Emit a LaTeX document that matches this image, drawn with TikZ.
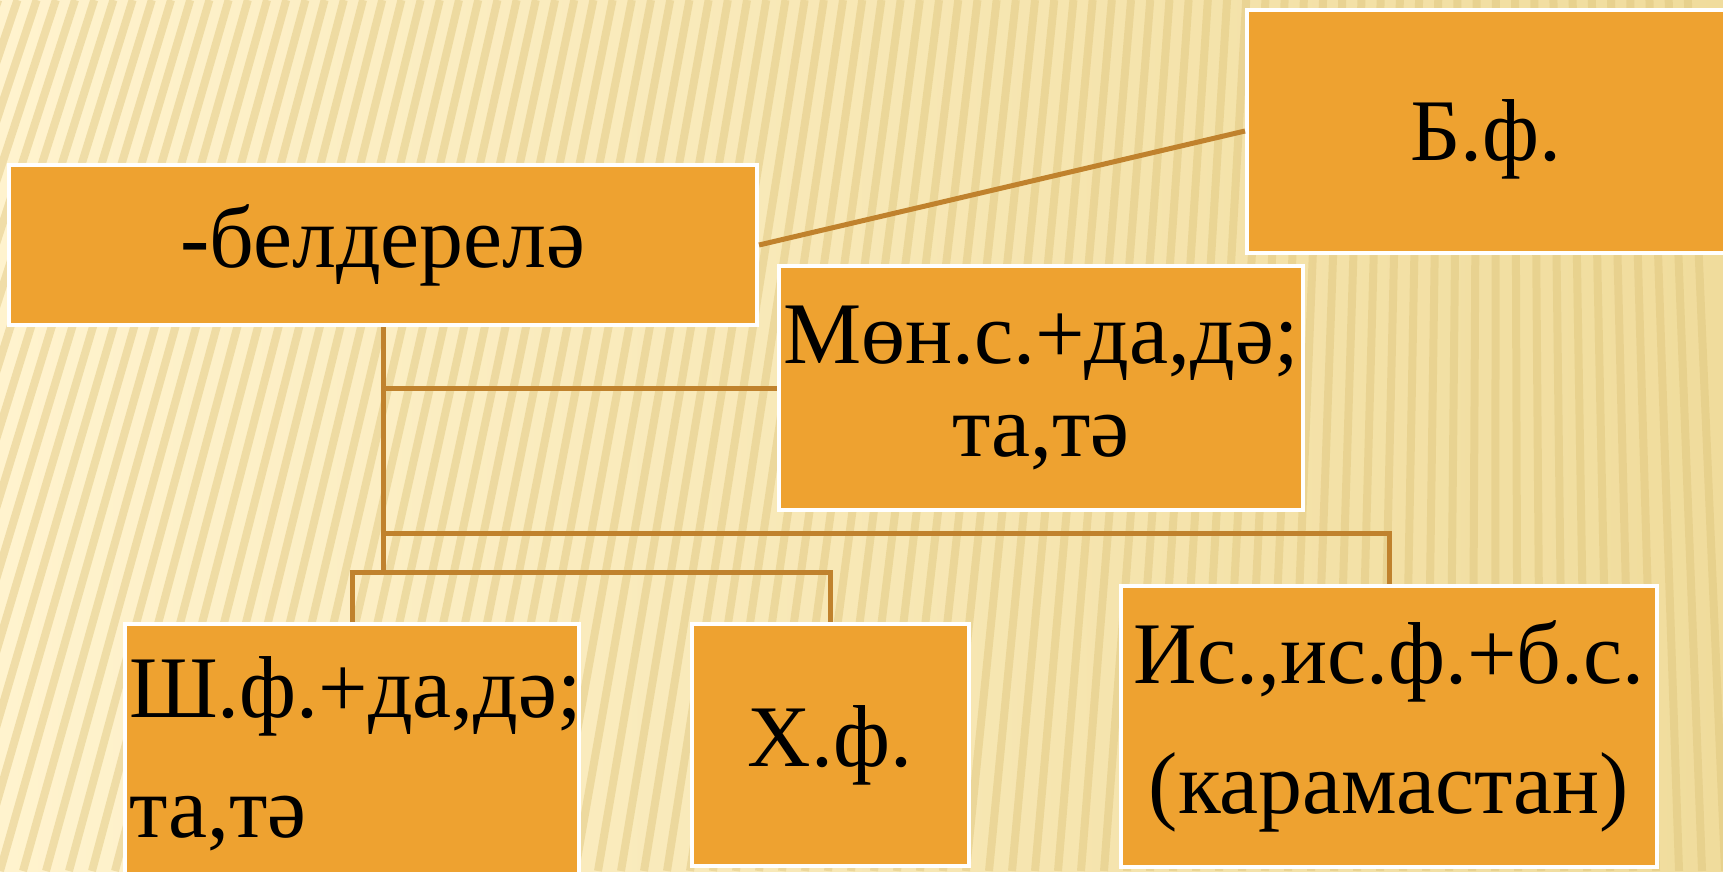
\documentclass[tikz,border=0pt]{standalone}
\usepackage{fontspec}
\setmainfont{Liberation Serif}
\definecolor{boxfill}{RGB}{238,162,48}
\definecolor{linkcol}{RGB}{192,130,45}
\definecolor{bglight}{RGB}{255,243,206}
\definecolor{bgdark}{RGB}{240,220,156}
\definecolor{stripecol}{RGB}{222,196,122}
\tikzset{
box/.style={draw=white, line width=0.4mm, fill=boxfill, inner sep=0.4mm, align=center, font=\fontsize{25}{26}\selectfont}, % orange boxes with a white frame
link/.style={draw=linkcol, line width=0.5mm}, % brown connectors
stripe/.style={stripecol, line width=0.8mm, opacity=0.45}, % stripes of the background
}

\begin{document}
\begin{tikzpicture}[x=0.1mm, y=-0.1mm] % one unit is one pixel, y grows downwards

\useasboundingbox (0, 0) rectangle (1723, 871);
\shade[left color=bglight, right color=bgdark] (0, 0) rectangle (1723, 871);
\begin{scope}
\clip (0, 0) rectangle (1723, 871);
\foreach \i in {-14,...,75} {
  \pgfmathsetmacro{\xb}{\i*23}
  \pgfmathsetmacro{\xt}{\xb+(1500-\xb)*0.1652}
  \draw[stripe] (\xb, 871) -- (\xt, 0);
}
\end{scope}

\node[box, minimum width=74.8mm, minimum height=16mm] at (383, 245) (belderele) {-белдерелә};
\node[box, minimum width=47.8mm, minimum height=24.3mm, text height=7.8mm] at (1486, 131) (bf) {Б.ф.};
\node[box, minimum width=51.8mm, minimum height=24.4mm, font=\fontsize{25}{26.5}\selectfont] at (1041, 388) (mon) {Мөн.с.+да,дә;\\ та,тә};
\node[box, minimum width=45.4mm, minimum height=26mm, text width=44.6mm, align=left, font=\fontsize{25}{34}\selectfont] at (352, 754) (sh) {Ш.ф.+да,дә;\\ та,тә};
\node[box, minimum width=27.7mm, minimum height=24.2mm] at (830, 745) (xf) {Х.ф.};
\node[box, minimum width=53.6mm, minimum height=28.1mm, font=\fontsize{25}{37}\selectfont] at (1389, 726) (is) {Ис.,ис.ф.+б.с.\\ (карамастан)};

\coordinate (branch) at (383, 533);
\coordinate (fork) at (383, 572);

\draw[link] (belderele.east) -- (bf.west);
\draw[link] (belderele.south) -- (fork);
\draw[link] (belderele.south |- mon.west) -- (mon.west);
\draw[link] (branch) -| (is.north);
\draw[link] (sh.north) |- (fork) -| (xf.north);

\end{tikzpicture}
\end{document}
